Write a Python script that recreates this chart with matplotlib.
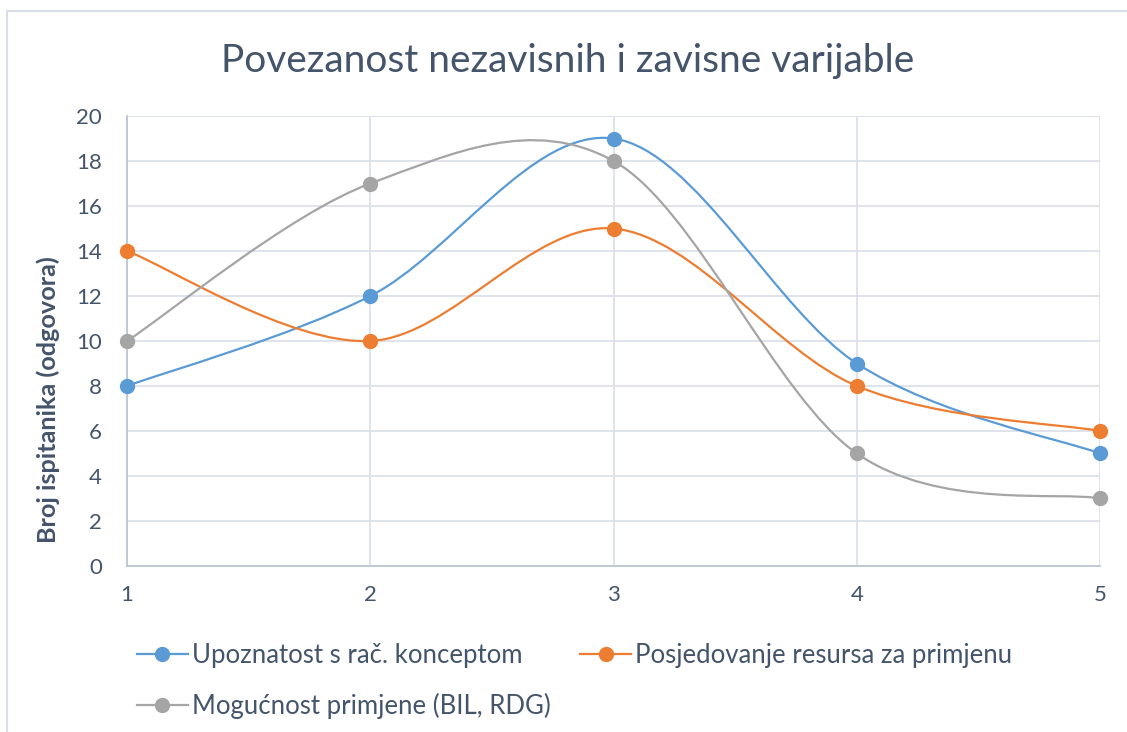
import numpy as np
import matplotlib.pyplot as plt
from matplotlib.path import Path
from matplotlib.patches import PathPatch, Rectangle
from matplotlib.lines import Line2D

#---------------------------------------------------------------
# data
#---------------------------------------------------------------
categories = [1, 2, 3, 4, 5]
upoznatost = [8, 12, 19, 9, 5]
posjedovanje = [14, 10, 15, 8, 6]
mogucnost = [10, 17, 18, 5, 3]

labels = ['Upoznatost s rač. konceptom',
          'Posjedovanje resursa za primjenu',
          'Mogućnost primjene (BIL, RDG)']
colors = ['#5B9BD5', '#ED7D31', '#A5A5A5']

text_col = '#44546A'
grid_col = '#DCE1E9'
plt.rcParams['font.family'] = ['Lato', 'DejaVu Sans']


def smooth_path(x, y):
    # Catmull-Rom style bezier through the points (spreadsheet "smoothed line")
    x = np.asarray(x, float)
    y = np.asarray(y, float)
    px = np.concatenate([[x[0]], x, [x[-1]]])
    py = np.concatenate([[y[0]], y, [y[-1]]])
    verts = [(x[0], y[0])]
    codes = [Path.MOVETO]
    for i in range(1, len(px) - 2):
        c1 = (px[i] + (px[i + 1] - px[i - 1]) / 6, py[i] + (py[i + 1] - py[i - 1]) / 6)
        c2 = (px[i + 1] - (px[i + 2] - px[i]) / 6, py[i + 1] - (py[i + 2] - py[i]) / 6)
        verts += [c1, c2, (px[i + 1], py[i + 1])]
        codes += [Path.CURVE4] * 3
    return Path(verts, codes)


fig = plt.figure(figsize=(11.27, 7.32), dpi=100)
ax = fig.add_axes([0.1127, 0.2268, 0.8635, 0.6147])

series = [upoznatost, posjedovanje, mogucnost]
for vals, col in zip(series, colors):
    ax.add_patch(PathPatch(smooth_path(categories, vals), facecolor='none',
                           edgecolor=col, lw=1.6, zorder=3))
    ax.plot(categories, vals, ls='none', marker='o', ms=10, color=col,
            zorder=4, clip_on=False)

ax.set_xlim(1, 5)
ax.set_ylim(0, 20)
ax.set_xticks(categories)
ax.set_yticks(np.arange(0, 21, 2))
ax.grid(True, color=grid_col, lw=1.3)
ax.set_axisbelow(True)
for s in ['top', 'right']:
    ax.spines[s].set_visible(False)
for s in ['left', 'bottom']:
    ax.spines[s].set_color('#BCC6D3')
    ax.spines[s].set_linewidth(1.3)
ax.tick_params(length=0, labelsize=16, colors=text_col)
ax.tick_params(axis='x', pad=14)
ax.tick_params(axis='y', pad=18)
ax.set_ylabel('Broj ispitanika (odgovora)', fontsize=18.2, fontweight='bold',
              color=text_col)
ax.yaxis.set_label_coords(-0.069, 0.37)

fig.text(0.504, 0.916, 'Povezanost nezavisnih i zavisne varijable',
         ha='center', va='center', fontsize=28, color=text_col)

# legend: first column blue + gray, second column orange
order = [0, 2, 1]
handles = [Line2D([], [], color=colors[i], lw=1.6, marker='o', ms=10) for i in order]
fig.legend(handles, [labels[i] for i in order], ncol=2, frameon=False,
           loc='upper left', bbox_to_anchor=(0.112, 0.136), fontsize=18.5,
           labelcolor=text_col, handlelength=2.0, handletextpad=0.15,
           columnspacing=1.15, labelspacing=0.97, borderaxespad=0)

# outer chart frame
fig.add_artist(Rectangle((7 / 1127, -0.1), 1.2, 1.1 - 11 / 732,
                         transform=fig.transFigure, fill=False,
                         edgecolor='#D9DEE6', lw=1.5))

fig.savefig('out.png', dpi=100)
